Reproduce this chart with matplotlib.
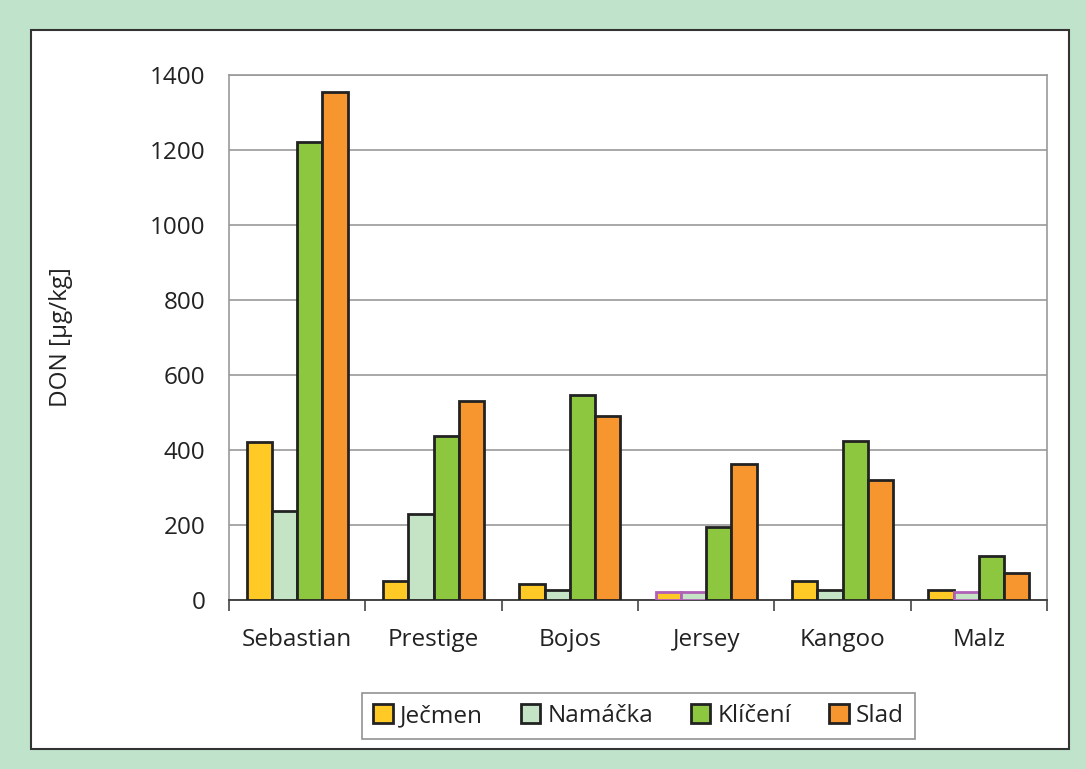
import numpy as np
import matplotlib.pyplot as plt
from matplotlib.patches import Rectangle

plt.rcParams['font.family'] = ['Open Sans', 'DejaVu Sans']

categories = ['Sebastian', 'Prestige', 'Bojos', 'Jersey', 'Kangoo', 'Malz']
series = ['Ječmen', 'Namáčka', 'Klíčení', 'Slad']
jecmen = [420, 50, 43, 21, 50, 27]
namacka = [236, 229, 27, 21, 27, 21]
kliceni = [1220, 437, 547, 195, 424, 117]
slad = [1355, 531, 491, 363, 320, 72]
yticks = [0, 200, 400, 600, 800, 1000, 1200, 1400]

colors = ['#FFC926', '#C5E3C5', '#8DC63F', '#F7962F']
# bars drawn with a purple outline in the original
purple = {(0, 3), (1, 3), (1, 5)}

fig = plt.figure(figsize=(10.86, 7.69), dpi=100)
fig.patch.set_facecolor('#C0E3CB')
fig.patches.append(Rectangle((0.0285, 0.026), 0.9558, 0.935, transform=fig.transFigure,
                             facecolor='white', edgecolor='#333333', linewidth=1.5, zorder=-5))

ax = fig.add_axes([0.2109, 0.2198, 0.7532, 0.6827])
x = np.arange(len(categories))
w = 0.185
for i, (vals, c, name) in enumerate(zip([jecmen, namacka, kliceni, slad], colors, series)):
    bars = ax.bar(x + (i - 1.5) * w, vals, w, color=c, edgecolor='#222222', linewidth=2,
                  label=name, zorder=3)
    for j, b in enumerate(bars):
        if (i, j) in purple:
            b.set_edgecolor('#B060B8')

ax.set_xlim(-0.5, len(categories) - 0.5)
ax.set_ylim(0, 1400)
ax.set_yticks(yticks)
ax.yaxis.grid(True, color='#999999', linewidth=1.2)
ax.set_axisbelow(True)
ax.set_xticks(x)
ax.set_xticklabels(categories)
ax.set_xticks(np.arange(-0.5, len(categories)), minor=True)
ax.tick_params(axis='x', which='major', length=0, pad=20, labelsize=17.5, labelcolor='#222222')
ax.tick_params(axis='x', which='minor', length=8, width=1.2, color='#444444')
ax.tick_params(axis='y', length=0, pad=17, labelsize=17.5, labelcolor='#222222')
for s in ['left', 'right', 'top']:
    ax.spines[s].set_color('#999999')
    ax.spines[s].set_linewidth(1.2)
ax.spines['bottom'].set_color('#444444')
ax.spines['bottom'].set_linewidth(1.4)
ax.set_ylabel('DON [µg/kg]', fontsize=17.5, labelpad=55, color='#222222')

leg = fig.legend(loc='center', bbox_to_anchor=(0.588, 0.069), ncol=4, fontsize=17.5,
                 frameon=True, fancybox=False, edgecolor='#777777', handlelength=0.8,
                 handleheight=0.8, handletextpad=0.3, columnspacing=1.55, borderpad=0.45)
leg.get_frame().set_linewidth(1.2)
for t in leg.get_texts():
    t.set_color('#222222')

fig.savefig('out.png', dpi=100)
